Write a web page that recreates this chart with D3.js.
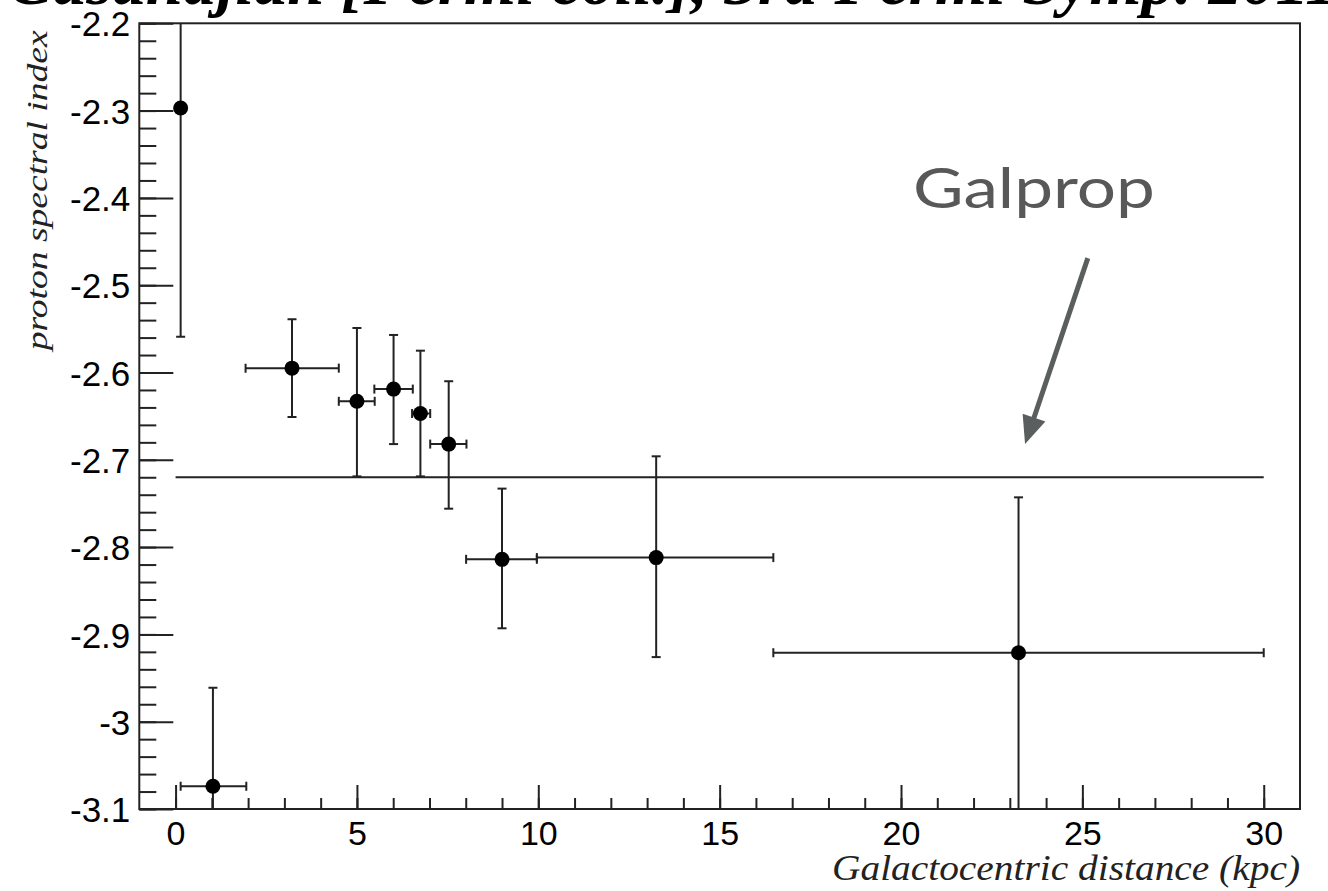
<!DOCTYPE html>
<html>
<head>
<meta charset="utf-8">
<script src="https://cdn.jsdelivr.net/npm/d3@7"></script>
<style>
  body { margin: 0; background: #fff; }
  svg { display: block; }
</style>
</head>
<body>
<svg id="chart"></svg>
<script>
// measured points (kpc, spectral index) with asymmetric error ends
const distance = [0.14, 1.03, 3.21, 5.0, 6.01, 6.75, 7.53, 9.0, 13.25, 23.24];
const distLow = [0.14, 0.14, 1.93, 4.5, 5.48, 6.52, 7.02, 8.01, 9.96, 16.48];
const distHigh = [0.14, 1.95, 4.5, 5.49, 6.54, 7.02, 8.02, 9.96, 16.48, 30.0];
const index = [-2.297, -3.074, -2.595, -2.633, -2.619, -2.647, -2.682, -2.814, -2.812, -2.921];
const indexTop = [-2.035, -2.961, -2.539, -2.549, -2.557, -2.575, -2.61, -2.733, -2.696, -2.743];
const indexBottom = [-2.559, -3.187, -2.651, -2.719, -2.682, -2.719, -2.756, -2.893, -2.926, -3.1];

// galprop reference line
const galpropRange = [0, 30];
const galpropIndex = -2.72;

const xTicks = [0, 5, 10, 15, 20, 25, 30];
const yTicks = [-2.2, -2.3, -2.4, -2.5, -2.6, -2.7, -2.8, -2.9, -3, -3.1];

const width = 1328;
const height = 891;
const frame = { left: 139.3, right: 1300, top: 23.3, bottom: 809 };

const svg = d3.select("#chart").attr("width", width).attr("height", height);

const x = d3.scaleLinear().domain([-1, 31]).range([frame.left, frame.right]);
const y = d3.scaleLinear().domain([-3.1, -2.2]).range([frame.bottom, frame.top]);

const ink = "#222";
const tickFont = "'Liberation Sans', Arial, sans-serif";
const serif = "'Liberation Serif', 'Times New Roman', serif";

// cut-off heading at the very top
svg.append("text")
  .attr("x", 8)
  .attr("y", 4)
  .attr("font-family", serif)
  .attr("font-style", "italic")
  .attr("font-weight", "bold")
  .attr("font-size", 67)
  .attr("fill", "#000")
  .text("Casandjian [Fermi coll.], 3rd Fermi Symp. 2011]");

svg.append("defs").append("clipPath").attr("id", "plot")
  .append("rect")
  .attr("x", frame.left).attr("y", frame.top)
  .attr("width", frame.right - frame.left)
  .attr("height", frame.bottom - frame.top);

// y axis: minor and major ticks pointing inward
svg.append("g")
  .attr("transform", `translate(${frame.left},0)`)
  .call(d3.axisLeft(y).tickValues(y.ticks(45)).tickSize(-17).tickSizeOuter(0).tickFormat(""))
  .call((g) => g.select(".domain").remove())
  .call((g) => g.selectAll("line").attr("stroke", ink).attr("stroke-width", 2));

svg.append("g")
  .attr("transform", `translate(${frame.left},0)`)
  .call(d3.axisLeft(y).tickValues(yTicks).tickSize(-34).tickSizeOuter(0).tickPadding(9)
    .tickFormat((d) => String(+d.toFixed(2))))
  .call((g) => g.select(".domain").remove())
  .call((g) => g.selectAll("line").attr("stroke", ink).attr("stroke-width", 2))
  .call((g) => g.selectAll("text")
    .attr("font-family", tickFont).attr("font-size", 35).attr("fill", "#000").attr("dy", "0.36em"));

// x axis
svg.append("g")
  .attr("transform", `translate(0,${frame.bottom})`)
  .call(d3.axisBottom(x).tickValues(d3.range(0, 31)).tickSize(-11).tickSizeOuter(0).tickFormat(""))
  .call((g) => g.select(".domain").remove())
  .call((g) => g.selectAll("line").attr("stroke", ink).attr("stroke-width", 2));

svg.append("g")
  .attr("transform", `translate(0,${frame.bottom})`)
  .call(d3.axisBottom(x).tickValues(xTicks).tickSize(-24).tickSizeOuter(0).tickPadding(12))
  .call((g) => g.select(".domain").remove())
  .call((g) => g.selectAll("line").attr("stroke", ink).attr("stroke-width", 2))
  .call((g) => g.selectAll("text")
    .attr("font-family", tickFont).attr("font-size", 34).attr("fill", "#000").attr("dy", "0.72em"));

// frame
svg.append("rect")
  .attr("x", frame.left).attr("y", frame.top)
  .attr("width", frame.right - frame.left)
  .attr("height", frame.bottom - frame.top)
  .attr("fill", "none")
  .attr("stroke", ink)
  .attr("stroke-width", 2);

// axis titles
svg.append("text")
  .attr("transform", `translate(47,${frame.top + 7}) rotate(-90)`)
  .attr("text-anchor", "end")
  .attr("font-family", serif)
  .attr("font-style", "italic")
  .attr("font-size", 29)
  .attr("textLength", 320)
  .attr("lengthAdjust", "spacingAndGlyphs")
  .attr("fill", "#222")
  .text("proton spectral index");

svg.append("text")
  .attr("x", frame.right)
  .attr("y", 880)
  .attr("text-anchor", "end")
  .attr("font-family", serif)
  .attr("font-style", "italic")
  .attr("font-size", 35)
  .attr("textLength", 468)
  .attr("lengthAdjust", "spacingAndGlyphs")
  .attr("fill", "#222")
  .text("Galactocentric distance (kpc)");

const plot = svg.append("g").attr("clip-path", "url(#plot)");

plot.append("line")
  .attr("x1", x(galpropRange[0])).attr("x2", x(galpropRange[1]))
  .attr("y1", y(galpropIndex)).attr("y2", y(galpropIndex))
  .attr("stroke", ink).attr("stroke-width", 2);

const points = distance.map((d, i) => ({
  x: d, y: index[i],
  xl: distLow[i], xh: distHigh[i],
  yt: indexTop[i], yb: indexBottom[i],
}));

const cap = 4.5;
const bars = plot.append("g").attr("stroke", ink).attr("stroke-width", 2);

points.forEach((p) => {
  const px = x(p.x), py = y(p.y);
  bars.append("line").attr("x1", px).attr("x2", px).attr("y1", y(p.yt)).attr("y2", y(p.yb));
  [p.yt, p.yb].forEach((v) => {
    bars.append("line").attr("x1", px - cap).attr("x2", px + cap).attr("y1", y(v)).attr("y2", y(v));
  });
  if (p.xh > p.xl) {
    bars.append("line").attr("x1", x(p.xl)).attr("x2", x(p.xh)).attr("y1", py).attr("y2", py);
    [p.xl, p.xh].forEach((v) => {
      bars.append("line").attr("x1", x(v)).attr("x2", x(v)).attr("y1", py - cap).attr("y2", py + cap);
    });
  }
});

plot.selectAll("circle")
  .data(points)
  .join("circle")
  .attr("cx", (d) => x(d.x))
  .attr("cy", (d) => y(d.y))
  .attr("r", 7.5)
  .attr("fill", "#000");

// Galprop annotation with arrow
const grey = "#5a5e5e";
const arrowFrom = [25.15, -2.469];
const arrowTo = [23.42, -2.682];
const labelAt = [20.33, -2.4116];

svg.append("text")
  .attr("x", x(labelAt[0]))
  .attr("y", y(labelAt[1]))
  .attr("font-family", "Lato, 'Open Sans', sans-serif")
  .attr("font-size", 56)
  .attr("textLength", 242)
  .attr("lengthAdjust", "spacingAndGlyphs")
  .attr("fill", "#585858")
  .text("Galprop");

const ax1 = x(arrowFrom[0]), ay1 = y(arrowFrom[1]);
const ax2 = x(arrowTo[0]), ay2 = y(arrowTo[1]);
const ang = Math.atan2(ay2 - ay1, ax2 - ax1);
const headLen = 28, headHalf = 12;
const bx = ax2 - headLen * Math.cos(ang), by = ay2 - headLen * Math.sin(ang);

svg.append("line")
  .attr("x1", ax1).attr("y1", ay1)
  .attr("x2", bx + 2 * Math.cos(ang)).attr("y2", by + 2 * Math.sin(ang))
  .attr("stroke", grey).attr("stroke-width", 5);

svg.append("path")
  .attr("d", d3.line()([
    [ax2, ay2],
    [bx - headHalf * Math.sin(ang), by + headHalf * Math.cos(ang)],
    [bx + headHalf * Math.sin(ang), by - headHalf * Math.cos(ang)],
  ]) + "Z")
  .attr("fill", grey);
</script>
</body>
</html>
